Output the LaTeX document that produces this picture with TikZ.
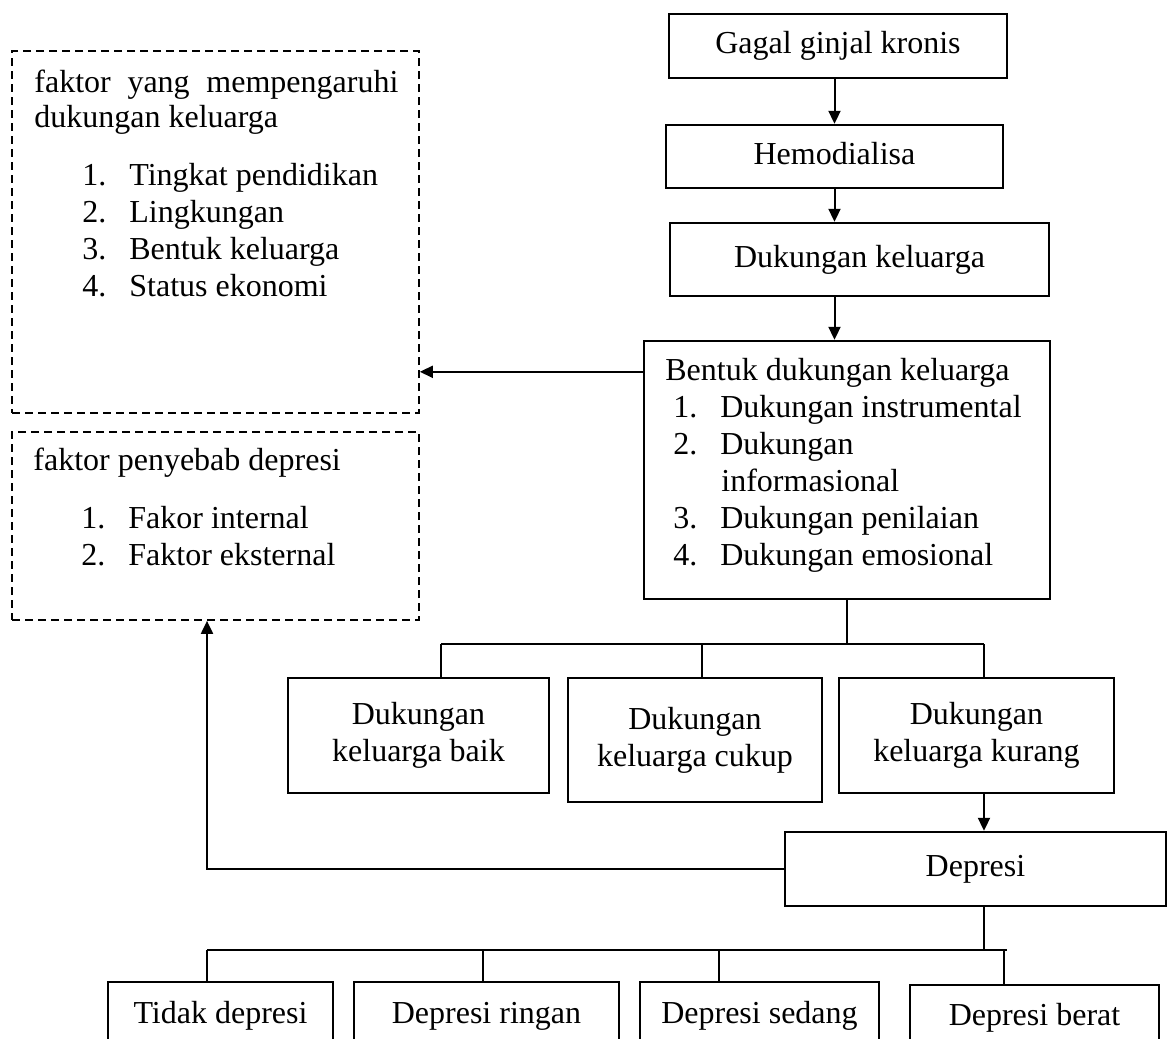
\documentclass[tikz,border=0pt]{standalone}
\usepackage{fontspec}
\setmainfont{Liberation Serif}
\usetikzlibrary{arrows.meta}
\newcommand{\nomor}[1]{\makebox[23.5pt][l]{#1}}

\begin{document}
\begin{tikzpicture}[
  x=0.5pt, y=-0.5pt,
  font=\fontsize{16}{18.5}\selectfont,
  box/.style={draw, line width=1.2pt, inner sep=0pt, align=center},
  satu/.style={box, text height=11.2pt, text depth=3.5pt},
  dbox/.style={draw, line width=0.85pt, dash pattern=on 4pt off 2.5pt, inner sep=0pt},
  isi/.style={anchor=base west, inner sep=0pt, align=left},
  arr/.style={-{Triangle[length=6.5pt,width=6pt]}, line width=1pt},
  garis/.style={line width=0.8pt}
]
\clip (0,0) rectangle (1174,1039);

% alur utama
\node[satu, minimum width=169pt, minimum height=32pt] (gagal) at (838,46) {Gagal ginjal kronis};
\node[satu, minimum width=168.5pt, minimum height=31.5pt] (hemo) at (834.5,156.5) {Hemodialisa};
\node[satu, minimum width=189.5pt, minimum height=36.5pt] (dukungan) at (859.5,259.5) {Dukungan keluarga};
\node[box, minimum width=203pt, minimum height=129pt] (bentuk) at (847,470) {};
\node[isi] (bentukisi) at (665,565) {Bentuk dukungan keluarga\\
  \hspace*{4pt}\nomor{1.}Dukungan instrumental\\
  \hspace*{4pt}\nomor{2.}Dukungan\\
  \hspace*{28pt}informasional\\
  \hspace*{4pt}\nomor{3.}Dukungan penilaian\\
  \hspace*{4pt}\nomor{4.}Dukungan emosional};

% kotak faktor
\node[dbox, minimum width=203.5pt, minimum height=181pt] (faktorA) at (215.5,232) {};
\node[isi] (faktorAisi) at (34,296) {\makebox[182pt][s]{faktor yang mempengaruhi}\\[-1pt]
  dukungan keluarga\\[10.5pt]
  \hspace*{24pt}\nomor{1.}Tingkat pendidikan\\
  \hspace*{24pt}\nomor{2.}Lingkungan\\
  \hspace*{24pt}\nomor{3.}Bentuk keluarga\\
  \hspace*{24pt}\nomor{4.}Status ekonomi};
\node[dbox, minimum width=203.5pt, minimum height=94pt] (faktorB) at (215.5,526) {};
\node[isi] (faktorBisi) at (33,565) {faktor penyebab depresi\\[10.5pt]
  \hspace*{24pt}\nomor{1.}Fakor internal\\
  \hspace*{24pt}\nomor{2.}Faktor eksternal};

% kategori dukungan
\node[box, minimum width=130.5pt, minimum height=57.5pt] (baik) at (418.5,735.5) {Dukungan\\keluarga baik};
\node[box, minimum width=127pt, minimum height=62pt] (cukup) at (695,740) {Dukungan\\keluarga cukup};
\node[box, minimum width=137.5pt, minimum height=57.5pt] (kurang) at (976.5,735.5) {Dukungan\\keluarga kurang};

\node[satu, minimum width=190.5pt, minimum height=37pt] (depresi) at (975.5,869) {Depresi};

% tingkat depresi
\node[satu, minimum width=112.5pt, minimum height=34pt] (tidak) at (220.5,1016) {Tidak depresi};
\node[satu, minimum width=132.5pt, minimum height=34pt] (ringan) at (486.5,1016) {Depresi ringan};
\node[satu, minimum width=119.5pt, minimum height=34pt] (sedang) at (759.5,1016) {Depresi sedang};
\node[satu, minimum width=124.5pt, minimum height=32.5pt] (berat) at (1034.5,1017.5) {Depresi berat};

% panah
\draw[arr] (hemo.north |- gagal.south) -- (hemo.north);
\draw[arr] (hemo.south) -- (hemo.south |- dukungan.north);
\draw[arr] (hemo.south |- dukungan.south) -- (hemo.south |- bentuk.north);
\coordinate (bentukL) at ([yshift=-16pt]bentuk.north west);
\draw[arr] (bentukL) -- (bentukL -| faktorA.east);

\coordinate (cabangL) at (441,644);
\coordinate (cabangM) at (702,644);
\coordinate (cabangR) at (984,644);
\draw[garis] (bentuk.south) -- (bentuk.south |- cabangL);
\draw[garis] (cabangL) -- (cabangR);
\draw[garis] (cabangL) -- (cabangL |- baik.north);
\draw[garis] (cabangM) -- (cabangM |- cukup.north);
\draw[garis] (cabangR) -- (cabangR |- kurang.north);
\draw[arr] (cabangR |- kurang.south) -- (cabangR |- depresi.north);

\coordinate (cabangB1) at (207,950);
\coordinate (cabangB2) at (483,950);
\coordinate (cabangB3) at (719,950);
\coordinate (cabangB4) at (1004,950);
\coordinate (cabangBR) at (1007,950);
\draw[arr] (depresi.west) -| (cabangB1 |- faktorB.south);
\draw[garis] (cabangR |- depresi.south) -- (cabangR |- cabangB1);
\draw[garis] (cabangB1) -- (cabangBR);
\draw[garis] (cabangB1) -- (cabangB1 |- tidak.north);
\draw[garis] (cabangB2) -- (cabangB2 |- ringan.north);
\draw[garis] (cabangB3) -- (cabangB3 |- sedang.north);
\draw[garis] (cabangB4) -- (cabangB4 |- berat.north);
\end{tikzpicture}
\end{document}
